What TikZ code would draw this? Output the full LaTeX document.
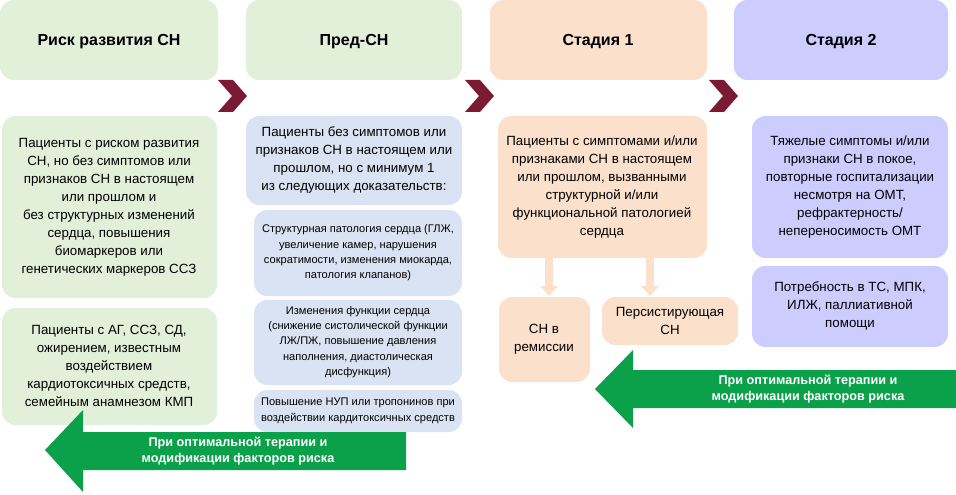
\documentclass[tikz,border=0pt]{standalone}
\usepackage{fontspec}
\setmainfont{Liberation Sans}
\usetikzlibrary{shapes.arrows}
\definecolor{gr}{HTML}{E2EFD9}
\definecolor{bl}{HTML}{DAE3F3}
\definecolor{pe}{HTML}{FBE0CB}
\definecolor{lv}{HTML}{CCCCFF}
\definecolor{dr}{HTML}{7B1A35}
\definecolor{ag}{HTML}{0BA04A}
\begin{document}
\begin{tikzpicture}[x=0.75pt,y=-0.75pt,
  box/.style={rounded corners=10pt,draw=none},
  hd/.style={font=\bfseries\fontsize{12}{14}\selectfont},
  tx/.style={align=center,font=\fontsize{10}{13.5}\selectfont},
  sx/.style={align=center,font=\fontsize{8.3}{11.5}\selectfont},
  chev/.style={fill=dr},
  garr/.style={fill=ag}]
\useasboundingbox (0,0) rectangle (956,495);
% headers
\fill[box,gr] (0,0) rectangle (218,80); \node[hd] (h1) at (109,42) {Риск развития СН};
\fill[box,gr] (246,0) rectangle (462,80); \node[hd] (h2) at (354,42) {Пред-СН};
\fill[box,pe] (490,0) rectangle (707,80); \node[hd] (h3) at (598,42) {Стадия 1};
\fill[box,lv] (734,0) rectangle (948,80); \node[hd] (h4) at (841,42) {Стадия 2};
% chevrons
\foreach \cx in {231,478,722}{
 \fill[chev] (\cx-13,80) -- (\cx+2,80) -- (\cx+16,96) -- (\cx+2,112) -- (\cx-13,112) -- (\cx+1,96) -- cycle;}
% column 1
\fill[box,gr] (2,116) rectangle (217,298);
\node[tx] (c1a) at (109,207) {Пациенты с риском развития\\СН, но без симптомов или\\признаков СН в настоящем\\или прошлом и\\без структурных изменений\\сердца, повышения\\биомаркеров или\\генетических маркеров ССЗ};
\fill[box,gr] (2,308) rectangle (217,425);
\node[tx] (c1b) at (109,366) {Пациенты с АГ, ССЗ, СД,\\ожирением, известным\\воздействием\\кардиотоксичных средств,\\семейным анамнезом КМП};
% column 2
\fill[box,bl] (246,116) rectangle (462,205);
\node[tx] (c2a) at (354,160) {Пациенты без симптомов или\\признаков СН в настоящем или\\прошлом, но с минимум 1\\из следующих доказательств:};
\fill[box,bl] (254,210) rectangle (462,296);
\node[sx] (c2b) at (358,253) {Структурная патология сердца (ГЛЖ,\\увеличение камер, нарушения\\сократимости, изменения миокарда,\\патология клапанов)};
\fill[box,bl] (254,300) rectangle (462,385);
\node[sx] (c2c) at (358,342) {Изменения функции сердца\\(снижение систолической функции\\ЛЖ/ПЖ, повышение давления\\наполнения, диастолическая\\дисфункция)};
\fill[box,bl] (254,390) rectangle (462,432);
\node[sx] (c2d) at (358,411) {Повышение НУП или тропонинов при\\воздействии кардитоксичных средств};
% column 3
\fill[box,pe] (498,116) rectangle (707,258);
\node[tx] (c3a) at (602,187) {Пациенты с симптомами и/или\\признаками СН в настоящем\\или прошлом, вызванными\\структурной и/или\\функциональной патологией\\сердца};
\fill[box,pe] (499,297) rectangle (590,382);
\node[tx] (c3b) at (544,339) {СН в\\ремиссии};
\fill[box,pe] (602,297) rectangle (738,345);
\node[tx] (c3c) at (670,321) {Персистирующая\\СН};
\foreach \ax in {549,650}{
 \fill[pe] (\ax-4,258) -- (\ax+4,258) -- (\ax+4,286) -- (\ax+9,286) -- (\ax,296) -- (\ax-9,286) -- (\ax-4,286) -- cycle;}
% column 4
\fill[box,lv] (752,116) rectangle (948,258);
\node[tx] (c4a) at (850,187) {Тяжелые симптомы и/или\\признаки СН в покое,\\повторные госпитализации\\несмотря на ОМТ,\\рефрактерность/\\непереносимость ОМТ};
\fill[box,lv] (752,266) rectangle (948,347);
\node[tx] (c4b) at (850,306) {Потребность в ТС, МПК,\\ИЛЖ, паллиативной\\помощи};
% green arrows
\fill[garr] (45,450) -- (83,410) -- (83,432) -- (406,432) -- (406,470) -- (83,470) -- (83,492) -- cycle;
\node[align=center,text=white,font=\bfseries\fontsize{9.5}{12}\selectfont] (g1) at (238,451) {При оптимальной терапии и\\модификации факторов риска};
\fill[garr] (595,389) -- (633,350) -- (633,370) -- (956,370) -- (956,408) -- (633,408) -- (633,428) -- cycle;
\node[align=center,text=white,font=\bfseries\fontsize{9.5}{12}\selectfont] (g2) at (808,389) {При оптимальной терапии и\\модификации факторов риска};
\end{tikzpicture}
\end{document}
